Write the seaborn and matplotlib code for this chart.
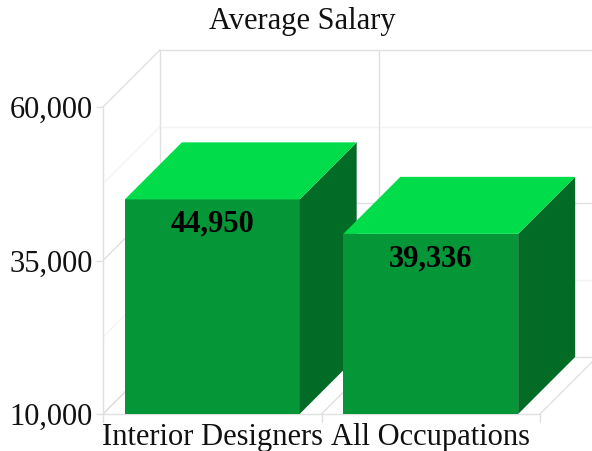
import matplotlib
matplotlib.use("Agg")
import matplotlib.pyplot as plt
import matplotlib.transforms as mtrans
import pandas as pd
import seaborn as sns
from matplotlib.patches import Polygon

categories = ["Interior Designers", "All Occupations"]
salaries = [44950, 39336]
y_ticks = [10000, 35000, 60000]
y_minor = [22500, 47500]

FRONT = "#059638"
TOP = "#01dc4b"
SIDE = "#026c27"
GRID = "#e0e0e0"
GRID_FAINT = "#f4f4f4"

# how far the back wall sits from the front plane, in data units
DEPTH_X = 0.261
DEPTH_Y = 9290


def draw_walls(ax, y_min, y_max):
    x0, x1 = ax.get_xlim()
    # lines on the back wall and left wall
    for y, color in [(v, GRID) for v in y_ticks] + [(v, GRID_FAINT) for v in y_minor]:
        ax.plot([x0 + DEPTH_X, x1 + DEPTH_X], [y + DEPTH_Y, y + DEPTH_Y], color=color, lw=1, zorder=1, clip_on=False)
        ax.plot([x0, x0 + DEPTH_X], [y, y + DEPTH_Y], color=color, lw=1, zorder=1, clip_on=False)
    # verticals on the back wall + floor diagonals
    for x in [x0, 0.5, x1]:
        ax.plot([x + DEPTH_X, x + DEPTH_X], [y_min + DEPTH_Y, y_max + DEPTH_Y], color=GRID, lw=1, zorder=1, clip_on=False)
        ax.plot([x, x + DEPTH_X], [y_min, y_min + DEPTH_Y], color=GRID, lw=1, zorder=1, clip_on=False)


def draw_bar_depth(ax, patch, order, y_min):
    left = patch.get_x()
    right = left + patch.get_width()
    top = patch.get_height()
    side = [(right, y_min), (right + DEPTH_X, y_min + DEPTH_Y), (right + DEPTH_X, top + DEPTH_Y), (right, top)]
    lid = [(left, top), (left + DEPTH_X, top + DEPTH_Y), (right + DEPTH_X, top + DEPTH_Y), (right, top)]
    ax.add_patch(Polygon(side, facecolor=SIDE, edgecolor="none", zorder=3 + order, clip_on=False))
    ax.add_patch(Polygon(lid, facecolor=TOP, edgecolor="none", zorder=3 + order, clip_on=False))
    patch.set_zorder(3 + order)
    patch.set_linewidth(0)
    patch.set_edgecolor("none")


def main():
    sns.set_theme(style="white")
    plt.rcParams["font.family"] = ["Liberation Serif", "DejaVu Serif"]

    fig = plt.figure(figsize=(5.92, 4.52), dpi=100)
    ax = fig.add_axes([103 / 592, 1 - 415 / 452, 437 / 592, 307 / 452])
    ax.patch.set_alpha(0)

    df = pd.DataFrame({"category": categories, "salary": salaries})
    sns.barplot(data=df, x="category", y="salary", color=FRONT, saturation=1, width=0.8, ax=ax)

    y_min, y_max = y_ticks[0], y_ticks[-1]
    ax.set_xlim(-0.5, 1.5)
    ax.set_ylim(y_min, y_max)
    ax.set_xlabel("")
    ax.set_ylabel("")

    draw_walls(ax, y_min, y_max)
    for i, patch in enumerate(ax.patches[:len(salaries)]):
        draw_bar_depth(ax, patch, i, y_min)

    for i, value in enumerate(salaries):
        ax.annotate(f"{value:,}", (i, value), xytext=(0, -17), textcoords="offset points",
                    ha="center", va="center", fontsize=22, fontweight="bold", color="black", zorder=10)

    ax.set_yticks(y_ticks, [f"{v:,}" for v in y_ticks])
    ax.set_xticks([0, 1], categories)
    ax.tick_params(axis="y", labelsize=22, labelcolor="#111111", length=5, width=1, color=GRID, pad=2.5, left=True)
    ax.tick_params(axis="x", labelsize=22, labelcolor="#111111", length=0, pad=5.5)
    # labels sit a little higher than their ticks
    up = mtrans.ScaledTranslation(0, 1 / 100, fig.dpi_scale_trans)
    for label in ax.get_yticklabels():
        label.set_transform(label.get_transform() + up)
    # tick marks between the categories
    for x in [-0.5, 0.5, 1.5]:
        ax.plot([x, x], [y_min, y_min - 1300], color=GRID, lw=1, clip_on=False, zorder=1)

    for name in ["top", "right"]:
        ax.spines[name].set_visible(False)
    for name in ["left", "bottom"]:
        ax.spines[name].set_color(GRID)
        ax.spines[name].set_linewidth(1)

    fig.text(302 / 592, 1 - 21 / 452, "Average Salary", ha="center", va="center", fontsize=22, color="#111111")
    fig.savefig("out.png", dpi=100)


if __name__ == "__main__":
    main()
